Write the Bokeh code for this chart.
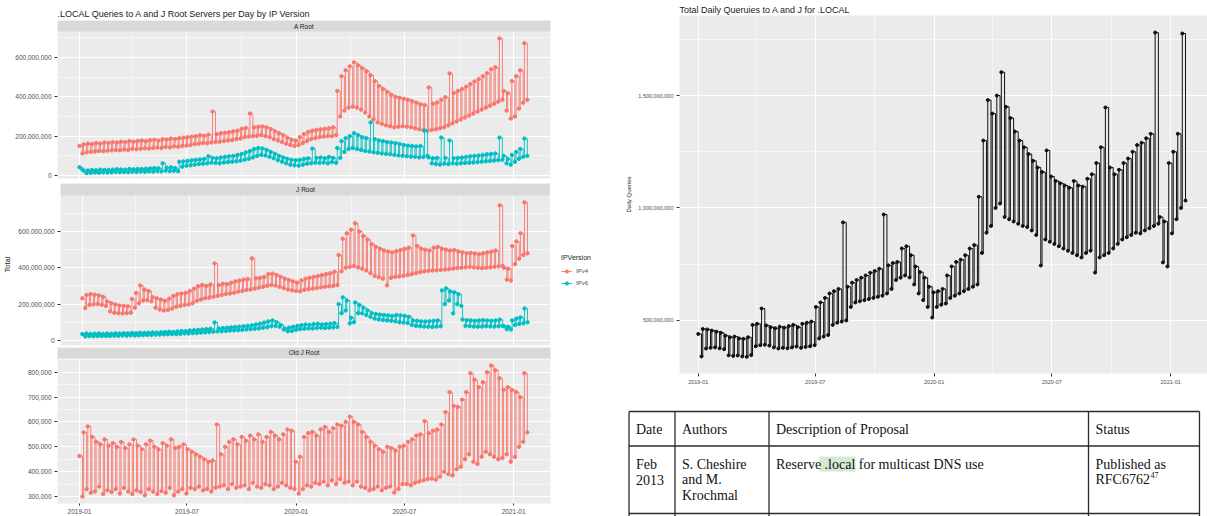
import pandas as pd
from bokeh.plotting import figure
from bokeh.layouts import row, column
from bokeh.models import (BoxAnnotation, DatetimeTickFormatter, FixedTicker, Label,
                          Legend, LegendItem, NumeralTickFormatter, Range1d)
from bokeh.core.properties import value
from bokeh.embed import file_html
from bokeh.resources import INLINE

# ---------------------------------------------------------------------------
# Weekly readings: weekday level ("hi") and weekend trough ("lo") per week,
# starting with the week of 2019-01-01.  A/J root values in millions of
# queries, Old J root in thousands.
# ---------------------------------------------------------------------------
weeks = pd.date_range("2019-01-01", periods=108, freq="7D")

a_v4_hi = [150, 158, 162, 160, 165, 163, 168, 166, 170, 168, 172, 170, 175,
           172, 176, 178, 175, 180, 182, 178, 185, 183, 188, 186, 190, 192,
           195, 198, 200, 205, 202, 208, 325, 210, 215, 218, 220, 225, 228,
           238, 242, 315, 245, 248, 250, 244, 236, 225, 215, 205, 192, 182,
           178, 195, 210, 222, 228, 232, 235, 238, 240, 245, 430, 505, 535,
           555, 575, 560, 545, 530, 510, 480, 455, 440, 425, 410, 400, 395,
           390, 385, 378, 370, 362, 358, 448, 365, 372, 385, 398, 519, 420,
           430, 440, 452, 465, 478, 490, 505, 520, 540, 550, 697, 430, 418,
           480, 505, 535, 672]
a_v4_lo = [112, 118, 120, 122, 125, 124, 126, 128, 130, 128, 132, 130, 135,
           134, 136, 138, 137, 140, 142, 140, 145, 143, 148, 146, 150, 152,
           155, 160, 162, 165, 164, 168, 170, 172, 175, 178, 180, 185, 188,
           195, 198, 200, 202, 205, 200, 195, 185, 178, 170, 162, 155, 150,
           155, 165, 175, 185, 190, 195, 198, 200, 200, 205, 300, 330, 345,
           350, 345, 335, 320, 300, 285, 270, 262, 255, 250, 245, 248, 250,
           248, 245, 240, 235, 230, 228, 232, 235, 240, 245, 255, 265, 275,
           285, 295, 305, 315, 325, 335, 345, 355, 365, 375, 385, 330, 290,
           300, 340, 370, 385]
a_v6_hi = [42, 25, 26, 28, 27, 30, 29, 28, 30, 32, 31, 30, 33,
           32, 34, 33, 35, 36, 38, 37, 62, 40, 42, 38, 70, 72,
           75, 78, 80, 82, 85, 98, 90, 88, 92, 95, 98, 100, 105,
           110, 118, 125, 135, 140, 138, 130, 120, 110, 100, 92, 85, 80,
           78, 80, 85, 88, 137, 90, 92, 88, 95, 90, 140, 175, 190,
           200, 215, 205, 195, 190, 270, 185, 178, 175, 170, 168, 165, 160,
           155, 152, 150, 148, 150, 229, 92, 88, 90, 193, 90, 178, 88,
           90, 92, 95, 98, 100, 102, 105, 108, 110, 112, 193, 100, 85,
           105, 120, 135, 188]
a_v6_lo = [30, 12, 14, 15, 14, 16, 15, 16, 18, 17, 18, 17, 19,
           18, 20, 19, 21, 20, 22, 21, 25, 22, 24, 22, 45, 50,
           52, 55, 58, 60, 62, 65, 64, 62, 66, 68, 70, 72, 75,
           80, 85, 92, 100, 105, 102, 95, 88, 78, 70, 62, 55, 52,
           50, 55, 60, 62, 65, 64, 66, 62, 68, 65, 90, 120, 135,
           140, 135, 130, 125, 122, 118, 115, 112, 110, 108, 105, 102, 100,
           98, 96, 95, 92, 94, 100, 62, 58, 56, 60, 58, 62, 60,
           62, 64, 65, 66, 68, 70, 72, 74, 76, 78, 80, 62, 55,
           70, 85, 95, 100]
j_v4_hi = [232, 250, 255, 252, 248, 240, 215, 205, 198, 192, 190, 188, 228,
           262, 303, 280, 272, 238, 232, 225, 218, 230, 245, 255, 258, 262,
           272, 285, 298, 305, 300, 308, 424, 305, 312, 310, 318, 325, 330,
           335, 338, 452, 342, 345, 350, 365, 368, 360, 350, 340, 332, 325,
           318, 330, 340, 345, 350, 355, 360, 365, 370, 378, 470, 560, 590,
           610, 645, 600, 575, 555, 530, 515, 505, 495, 490, 485, 492, 498,
           505, 510, 578, 520, 505, 500, 495, 510, 515, 505, 500, 495, 498,
           490, 485, 480, 482, 478, 475, 480, 485, 490, 495, 744, 400, 395,
           520, 545, 590, 760]
j_v4_lo = [178, 195, 198, 200, 196, 190, 160, 152, 150, 148, 150, 152, 180,
           205, 220, 222, 215, 180, 170, 165, 168, 175, 185, 190, 195, 198,
           205, 218, 225, 232, 235, 240, 245, 250, 255, 258, 262, 268, 272,
           278, 280, 285, 290, 295, 300, 305, 302, 295, 288, 280, 276, 272,
           270, 278, 282, 285, 288, 292, 295, 298, 300, 305, 380, 400, 405,
           410, 402, 395, 385, 370, 355, 348, 340, 303, 345, 350, 352, 355,
           360, 365, 370, 375, 380, 382, 385, 386, 388, 390, 392, 395, 398,
           400, 402, 405, 402, 400, 398, 400, 402, 405, 408, 410, 335, 330,
           420, 450, 470, 480]
j_v6_hi = [35, 38, 36, 37, 38, 36, 38, 37, 39, 38, 40, 39, 41,
           40, 42, 41, 43, 44, 43, 45, 46, 48, 47, 50, 52, 51,
           55, 56, 58, 60, 62, 64, 99, 66, 68, 70, 72, 74, 76,
           78, 80, 84, 88, 92, 98, 105, 110, 100, 85, 65, 70, 75,
           80, 84, 88, 86, 90, 92, 88, 90, 92, 95, 200, 237, 220,
           125, 209, 195, 180, 165, 150, 145, 142, 140, 138, 135, 140, 138,
           135, 130, 110, 108, 105, 104, 106, 108, 110, 275, 286, 270, 265,
           255, 115, 112, 110, 108, 110, 112, 110, 108, 110, 115, 78, 75,
           110, 120, 127, 176]
j_v6_lo = [22, 24, 23, 24, 25, 24, 25, 26, 25, 27, 26, 28, 27,
           28, 29, 30, 30, 31, 32, 33, 34, 35, 34, 36, 38, 38,
           40, 41, 43, 44, 46, 48, 50, 50, 52, 54, 55, 56, 58,
           60, 62, 64, 66, 70, 72, 78, 80, 75, 60, 50, 52, 58,
           62, 64, 66, 65, 68, 70, 68, 70, 72, 74, 150, 165, 94,
           100, 150, 149, 140, 130, 120, 115, 112, 110, 108, 105, 100, 98,
           96, 85, 80, 78, 76, 75, 74, 76, 78, 200, 220, 149, 200,
           190, 80, 78, 76, 75, 76, 78, 77, 76, 78, 80, 62, 60,
           85, 90, 94, 100]
old_j_hi = [463, 558, 582, 540, 520, 510, 530, 505, 515, 500, 520, 495, 510,
            530, 505, 490, 510, 525, 500, 490, 515, 505, 530, 495, 500, 510,
            490, 480, 470, 460, 450, 440, 445, 590, 470, 500, 520, 530, 510,
            540, 525, 545, 530, 550, 520, 540, 560, 545, 530, 550, 570, 565,
            440, 460, 540, 555, 560, 545, 570, 580, 560, 575, 590, 585, 600,
            621, 600, 590, 560, 540, 520, 505, 490, 480, 500, 495, 485, 500,
            505, 520, 530, 545, 550, 603, 555, 565, 570, 590, 640, 720, 665,
            660, 690, 720, 796, 770, 740, 760, 800, 827, 808, 776, 730, 740,
            729, 720, 700, 796]
old_j_lo = [300, 330, 315, 320, 340, 310, 325, 318, 330, 312, 335, 320, 310,
            325, 318, 305, 330, 320, 310, 322, 315, 335, 305, 320, 330, 312,
            335, 330, 340, 325, 330, 320, 335, 340, 345, 330, 350, 335, 340,
            345, 330, 355, 340, 335, 350, 345, 330, 340, 355, 345, 335, 330,
            312, 330, 345, 340, 355, 350, 360, 345, 365, 350, 370, 355, 360,
            345, 360, 340, 335, 325, 330, 340, 325, 335, 340, 316, 330, 350,
            350, 345, 355, 360, 365, 370, 372, 368, 380, 400, 390, 385, 410,
            420, 450, 470, 440, 431, 460, 480, 470, 460, 450, 455, 470, 440,
            459, 500, 520, 558]
total_hi = [440, 462, 460, 455, 450, 445, 432, 425, 428, 420, 418, 425, 480,
            485, 553, 478, 470, 465, 472, 468, 475, 480, 470, 485, 490, 495,
            560, 580, 600, 620, 630, 640, 936, 650, 668, 680, 690, 700, 712,
            720, 730, 971, 745, 755, 760, 820, 830, 790, 740, 715, 690, 650,
            625, 630, 640, 700, 740, 760, 770, 790, 820, 835, 1050, 1300, 1480,
            1420, 1500, 1604, 1450, 1400, 1340, 1300, 1270, 1240, 1210, 1180, 1160, 1256,
            1140, 1120, 1110, 1100, 1090, 1120, 1100, 1095, 1130, 1150, 1200, 1270, 1447,
            1180, 1150, 1170, 1200, 1220, 1250, 1280, 1290, 1310, 1330, 1780, 960, 940,
            1200, 1250, 1330, 1776]
total_lo = [340, 375, 378, 380, 376, 372, 345, 342, 344, 340, 338, 346, 385,
            390, 392, 388, 380, 375, 378, 376, 380, 384, 378, 382, 385, 390,
            420, 428, 435, 480, 490, 495, 500, 560, 580, 585, 590, 595, 600,
            605, 610, 620, 640, 680, 690, 700, 691, 660, 620, 590, 560, 513,
            560, 570, 575, 600, 610, 620, 630, 640, 650, 660, 800, 890, 920,
            1000, 1020, 960, 950, 940, 930, 920, 915, 900, 880, 744, 860, 850,
            840, 830, 820, 810, 800, 790, 780, 800, 810, 713, 780, 790, 800,
            820, 840, 860, 870, 880, 890, 887, 900, 910, 920, 930, 758, 740,
            887, 950, 1000, 1033]

x_major_dates = ["2019-01-01", "2019-07-01", "2020-01-01", "2020-07-01", "2021-01-01"]
x_minor_dates = ["2018-10-01", "2019-04-01", "2019-10-01", "2020-04-01", "2020-10-01", "2021-04-01"]

facet_names = ["A Root", "J Root", "Old J Root"]
ip_versions = ["IPv4", "IPv6"]

table_header = ["Date", "Authors", "Description of Proposal", "Status"]
table_row = [["Feb", "2013"],
             ["S. Cheshire", "and M.", "Krochmal"],
             ["Reserve .local for multicast DNS use"],
             ["Published as", "RFC6762"]]

# ---------------------------------------------------------------------------
SANS = "Liberation Sans"
SERIF = "Liberation Serif"
RED = "#F8766D"
TEAL = "#00BFC4"
PANEL_BG = "#EBEBEB"
STRIP_BG = "#D9D9D9"
TICK_TXT = "#4D4D4D"

M = 1e6
K = 1e3


def ms(s):
    return pd.Timestamp(s).value / 1e6


X_MAJOR = [ms(d) for d in x_major_dates]
X_MINOR = [ms(d) for d in x_minor_dates]


def weekly_points(hi, lo, unit):
    """Weekday level from the start of each week, weekend trough from day 5."""
    xs, ys = [], []
    for d, h, l in zip(weeks, hi, lo):
        xs += [d, d + pd.Timedelta(days=5)]
        ys += [h * unit, l * unit]
    return xs, ys


def no_frame_align(p):
    # keep each plot's own borders instead of lining frames up across the layout
    if "frame_align" in p.properties():
        p.frame_align = False


def bare(p):
    p.grid.visible = False
    p.outline_line_color = None
    p.background_fill_color = "white"
    p.border_fill_color = "white"


def style_axis(ax, size):
    ax.axis_line_color = None
    ax.major_tick_line_color = "#333333"
    ax.major_tick_out = 3
    ax.major_tick_in = 0
    ax.minor_tick_line_color = None
    ax.major_label_text_font = SANS
    ax.major_label_text_font_size = size
    ax.major_label_text_color = TICK_TXT
    ax.major_label_standoff = 2


def style_panel(p, y_major, y_minor, y_size, x_size):
    p.background_fill_color = PANEL_BG
    p.border_fill_color = "white"
    p.outline_line_color = None
    xt = FixedTicker(ticks=X_MAJOR, minor_ticks=X_MINOR)
    yt = FixedTicker(ticks=y_major, minor_ticks=y_minor)
    p.xgrid.ticker = xt
    p.ygrid.ticker = yt
    p.grid.grid_line_color = "white"
    p.grid.grid_line_width = 1.1
    p.grid.minor_grid_line_color = "white"
    p.grid.minor_grid_line_width = 0.55
    for ax in p.yaxis:
        ax.ticker = yt
        ax.formatter = NumeralTickFormatter(format="0,0")
        style_axis(ax, y_size)
    for ax in p.xaxis:
        ax.ticker = xt
        ax.formatter = DatetimeTickFormatter(days="%Y-%m", months="%Y-%m", years="%Y-%m")
        style_axis(ax, x_size)


# ---------------------------------------------------------------------------
# Left: faceted daily queries per root server, by IP version
# ---------------------------------------------------------------------------
LEFT_W = 607
LEGEND_W = 57
X_LEFT = Range1d(pd.Timestamp("2018-11-25"), pd.Timestamp("2021-03-04"))
x_mid = (ms("2018-11-25") + ms("2021-03-04")) / 2


def facet(name, y_lo, y_hi, panel_px, strip_px, width, height, right, top, bottom,
          with_x_axis, y_major, y_minor):
    per_px = (y_hi - y_lo) / panel_px
    p = figure(width=width, height=height, x_axis_type="datetime",
               x_range=X_LEFT, y_range=Range1d(y_lo, y_hi + strip_px * per_px),
               x_axis_location="below" if with_x_axis else None,
               toolbar_location=None, output_backend="svg",
               min_border_left=57, min_border_right=right,
               min_border_top=top, min_border_bottom=bottom)
    no_frame_align(p)
    style_panel(p, y_major, y_minor, "6.5px", "6.5px")
    # facet strip across the top of the panel
    p.add_layout(BoxAnnotation(bottom=y_hi, fill_color=STRIP_BG, fill_alpha=1,
                               line_color=None, level="annotation"))
    p.add_layout(Label(x=x_mid, y=y_hi + strip_px * per_px / 2, text=name,
                       text_align="center", text_baseline="middle",
                       text_font=SANS, text_font_size="6.5px",
                       text_color="#1A1A1A", level="overlay"))
    return p


def draw_series(p, hi, lo, unit, color, size=3.4, width=0.9):
    xs, ys = weekly_points(hi, lo, unit)
    ln = p.step(xs, ys, mode="after", line_color=color, line_width=width)
    pt = p.scatter(xs, ys, size=size, fill_color=color, line_color=color)
    return ln, pt


MAJ_M = [0, 200 * M, 400 * M, 600 * M]
MIN_M = [100 * M, 300 * M, 500 * M, 700 * M]

fa = facet(facet_names[0], -15 * M, 732 * M, 147, 11, LEFT_W, 183, LEGEND_W, 20, 5,
           False, MAJ_M, MIN_M)
fa.title.text = ".LOCAL Queries to A and J Root Servers per Day by IP Version"
fa.title.text_font = SANS
fa.title.text_font_size = "9px"
fa.title.text_font_style = "normal"
fa.title.text_color = "#1A1A1A"
fa.title.standoff = 3
draw_series(fa, a_v4_hi, a_v4_lo, M, RED)
draw_series(fa, a_v6_hi, a_v6_lo, M, TEAL)

fj = facet(facet_names[1], -28 * M, 798 * M, 150, 12, LEFT_W - LEGEND_W, 164, 0, 0, 2,
           False, MAJ_M, MIN_M)
fj.yaxis.axis_label = "Total"
fj.yaxis.axis_label_text_font = SANS
fj.yaxis.axis_label_text_font_size = "7.5px"
fj.yaxis.axis_label_text_font_style = "normal"
fj.yaxis.axis_label_text_color = "#1A1A1A"
fj.yaxis.axis_label_standoff = 3
draw_series(fj, j_v4_hi, j_v4_lo, M, RED)
draw_series(fj, j_v6_hi, j_v6_lo, M, TEAL)

# legend column to the right of the J Root facet; its key renderers carry the
# J Root series on a 0..1 scale, so they only show up as legend keys
fl = figure(width=LEGEND_W, height=164, x_range=Range1d(0, 1), y_range=Range1d(0, 1),
            x_axis_location=None, y_axis_location=None,
            toolbar_location=None, output_backend="svg", min_border=0)
no_frame_align(fl)
bare(fl)
key_items = []
for label, color, (hi, lo) in zip(ip_versions, [RED, TEAL],
                                  [(j_v4_hi, j_v4_lo), (j_v6_hi, j_v6_lo)]):
    kx, ky = weekly_points(hi, lo, M)
    kl = fl.line(kx, ky, line_color=color, line_width=0.9)
    ks = fl.scatter(kx, ky, size=3.4, fill_color=color, line_color=color)
    key_items.append(LegendItem(label=label, renderers=[kl, ks]))
fl.add_layout(Legend(items=key_items, title="IPVersion", location=(11, 60),
                     title_text_font=SANS, title_text_font_size="7px",
                     title_text_font_style="normal", title_text_color="#1A1A1A",
                     title_standoff=5,
                     label_text_font=SANS, label_text_font_size="6px",
                     label_text_color=TICK_TXT, glyph_width=11, glyph_height=8,
                     label_height=9, label_standoff=4, spacing=3, padding=2, margin=0,
                     border_line_color=None, background_fill_alpha=0))

fo = facet(facet_names[2], 272 * K, 856 * K, 147, 11, LEFT_W, 169, LEGEND_W, 0, 11,
           True, [300 * K, 400 * K, 500 * K, 600 * K, 700 * K, 800 * K],
           [350 * K, 450 * K, 550 * K, 650 * K, 750 * K, 850 * K])
fo.xaxis.major_tick_out = 2
fo.xaxis.major_label_standoff = 1
draw_series(fo, old_j_hi, old_j_lo, K, RED)

# ---------------------------------------------------------------------------
# Right: total daily queries to A and J
# ---------------------------------------------------------------------------
fr = figure(width=600, height=400, x_axis_type="datetime",
            x_range=Range1d(pd.Timestamp("2018-12-03"), pd.Timestamp("2021-02-27")),
            y_range=Range1d(264 * M, 1856 * M),
            toolbar_location=None, output_backend="svg",
            min_border_left=72, min_border_right=0,
            min_border_top=15, min_border_bottom=27)
no_frame_align(fr)
style_panel(fr, [500 * M, 1000 * M, 1500 * M], [750 * M, 1250 * M, 1750 * M],
            "5.5px", "5.5px")
fr.title.text = "Total Daily Queruies to A and J for .LOCAL"
fr.title.text_font = SANS
fr.title.text_font_size = "9px"
fr.title.text_font_style = "normal"
fr.title.text_color = "#1A1A1A"
fr.title.standoff = 2
fr.yaxis.axis_label = "Daily Queries"
fr.yaxis.axis_label_text_font = SANS
fr.yaxis.axis_label_text_font_size = "6px"
fr.yaxis.axis_label_text_font_style = "normal"
fr.yaxis.axis_label_text_color = "#1A1A1A"
fr.yaxis.axis_label_standoff = 3
draw_series(fr, total_hi, total_lo, M, "#111111", size=3.0, width=1.0)

# ---------------------------------------------------------------------------
# Bottom right: proposal table (pixel coordinates, y downward)
# ---------------------------------------------------------------------------
ft = figure(width=600, height=116, x_range=Range1d(0, 600), y_range=Range1d(116, 0),
            x_axis_location=None, y_axis_location=None,
            toolbar_location=None, output_backend="svg", min_border=0)
no_frame_align(ft)
bare(ft)

col_x = [21.5, 67.5, 161.5, 481.0, 592.0]
row_y = [11.0, 45.5, 113.0]
ft.segment(x0=[col_x[0]] * 3, x1=[col_x[-1]] * 3, y0=row_y, y1=row_y,
           line_color="#2B2B2B", line_width=1.3)
ft.segment(x0=col_x, x1=col_x, y0=[row_y[0]] * 5, y1=[116] * 5,
           line_color="#2B2B2B", line_width=1.3)

# highlight behind ".local"
ft.quad(left=[212], right=[248], top=[56], bottom=[71], fill_color="#D3EAD3",
        line_color=None)

text_x = [c + 7 for c in col_x[:4]]
ft.text(x=text_x, y=[28.5] * 4, text=table_header, text_font=value(SERIF),
        text_font_size="14px", text_baseline="middle", text_color="#111111")
line_y = [63.5, 79.0, 95.0]
cx, cy, ct = [], [], []
for i, cell in enumerate(table_row):
    for j, line in enumerate(cell):
        cx.append(text_x[i])
        cy.append(line_y[j])
        ct.append(line)
ft.text(x=cx, y=cy, text=ct, text_font=value(SERIF), text_font_size="14px",
        text_baseline="middle", text_color="#111111")
ft.text(x=[text_x[3] + 55], y=[74.5], text=["47"], text_font=value(SERIF),
        text_font_size="8px", text_baseline="middle", text_color="#111111")

layout = row(column(fa, row(fj, fl), fo), column(fr, ft))

for name, arr in [("a_v4_hi", a_v4_hi), ("a_v4_lo", a_v4_lo), ("a_v6_hi", a_v6_hi),
                  ("a_v6_lo", a_v6_lo), ("j_v4_hi", j_v4_hi), ("j_v4_lo", j_v4_lo),
                  ("j_v6_hi", j_v6_hi), ("j_v6_lo", j_v6_lo), ("old_j_hi", old_j_hi),
                  ("old_j_lo", old_j_lo), ("total_hi", total_hi), ("total_lo", total_lo)]:
    assert len(arr) == len(weeks), (name, len(arr))

open("out.html", "w").write(file_html(layout, INLINE))
